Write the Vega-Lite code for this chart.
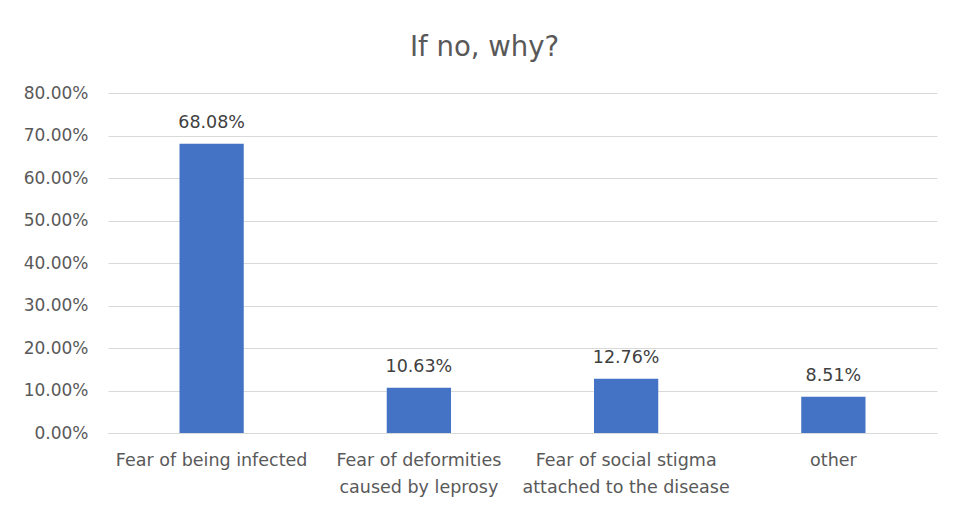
{
  "$schema": "https://vega.github.io/schema/vega-lite/v6.json",
  "autosize": {"type": "none"},
  "width": 829,
  "height": 340,
  "padding": {"left": 108, "top": 93, "right": 16, "bottom": 77},
  "background": "white",
  "config": {
    "view": {"stroke": null},
    "font": "DejaVu Sans"
  },
  "title": {
    "text": "If no, why?",
    "fontSize": 27.5,
    "fontWeight": "normal",
    "color": "#595959",
    "anchor": "middle",
    "dx": -38,
    "offset": 23
  },
  "data": {
    "values": [
      {"reason": "Fear of being infected", "share": 0.6808},
      {"reason": "Fear of deformities caused by leprosy", "share": 0.1063},
      {"reason": "Fear of social stigma attached to the disease", "share": 0.1276},
      {"reason": "other", "share": 0.0851}
    ]
  },
  "encoding": {
    "x": {
      "field": "reason",
      "type": "nominal",
      "sort": null,
      "scale": {"paddingInner": 0.69, "paddingOuter": 0.345},
      "axis": {
        "title": null,
        "labelAngle": 0,
        "labelFontSize": 17.5,
        "labelColor": "#595959",
        "labelPadding": 18,
        "labelLineHeight": 27,
        "labelLimit": 0,
        "ticks": false,
        "domainColor": "#d9d9d9",
        "labelExpr": "datum.value == 'Fear of deformities caused by leprosy' ? ['Fear of deformities', 'caused by leprosy'] : datum.value == 'Fear of social stigma attached to the disease' ? ['Fear of social stigma', 'attached to the disease'] : datum.value"
      }
    },
    "y": {
      "field": "share",
      "type": "quantitative",
      "scale": {"domain": [0, 0.8], "nice": false},
      "axis": {
        "title": null,
        "format": ".2%",
        "values": [0, 0.1, 0.2, 0.3, 0.4, 0.5, 0.6, 0.7, 0.8],
        "labelFontSize": 17,
        "labelColor": "#595959",
        "labelPadding": 20,
        "ticks": false,
        "domain": false,
        "gridColor": "#d9d9d9",
        "gridWidth": 1
      }
    }
  },
  "layer": [
    {"mark": {"type": "bar", "color": "#4472C4"}},
    {
      "mark": {"type": "text", "baseline": "alphabetic", "dy": -16, "fontSize": 17.5, "color": "#404040"},
      "encoding": {"text": {"field": "share", "type": "quantitative", "format": ".2%"}}
    }
  ]
}
